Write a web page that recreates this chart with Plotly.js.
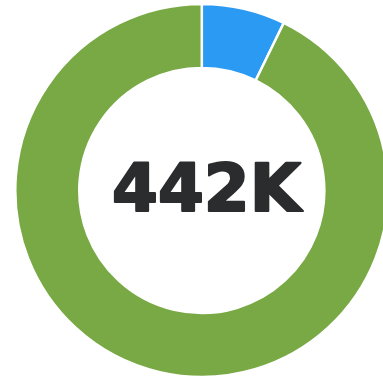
<!DOCTYPE html>
<html>
<head>
<meta charset="utf-8">
<script src="https://cdn.plot.ly/plotly-3.0.1.min.js"></script>
<style>
html,body{margin:0;padding:0;overflow:hidden;background:#fff;}
#chart{width:400px;height:381px;}
</style>
</head>
<body>
<div id="chart"></div>
<script>
const labels = ["Blue segment", "Green segment"];
const values = [32, 410];
const colors = ["#2b9af3", "#78a944"];
const centerLabel = "442K";

const W = 400, H = 381;
const cx = 201.8, cy = 190.5, R = 186.5;

Plotly.newPlot("chart", [{
  type: "pie",
  labels: labels,
  values: values,
  sort: false,
  direction: "clockwise",
  rotation: 0,
  hole: 0.657,
  textinfo: "none",
  hoverinfo: "none",
  marker: {colors: colors, line: {color: "#ffffff", width: 2.5}},
  domain: {x: [(cx - R) / W, (cx + R) / W], y: [(H - cy - R) / H, (H - cy + R) / H]},
  showlegend: false
}], {
  width: W, height: H,
  margin: {l: 0, r: 0, t: 0, b: 0},
  paper_bgcolor: "#ffffff",
  annotations: [{
    text: "<b>" + centerLabel + "</b>",
    xref: "paper", yref: "paper",
    x: 207.5 / W, y: (H - 188.5) / H,
    xanchor: "center", yanchor: "middle",
    showarrow: false,
    font: {family: "DejaVu Sans", size: 66, color: "#2b2c2e"}
  }]
}, {staticPlot: true}).then(function (gd) {
  gd.querySelectorAll(".annotation-text").forEach(function (t) {
    t.style.stroke = "#2b2c2e";
    t.style.strokeWidth = "2.2px";
    t.style.strokeLinejoin = "round";
  });
});
</script>
</body>
</html>
